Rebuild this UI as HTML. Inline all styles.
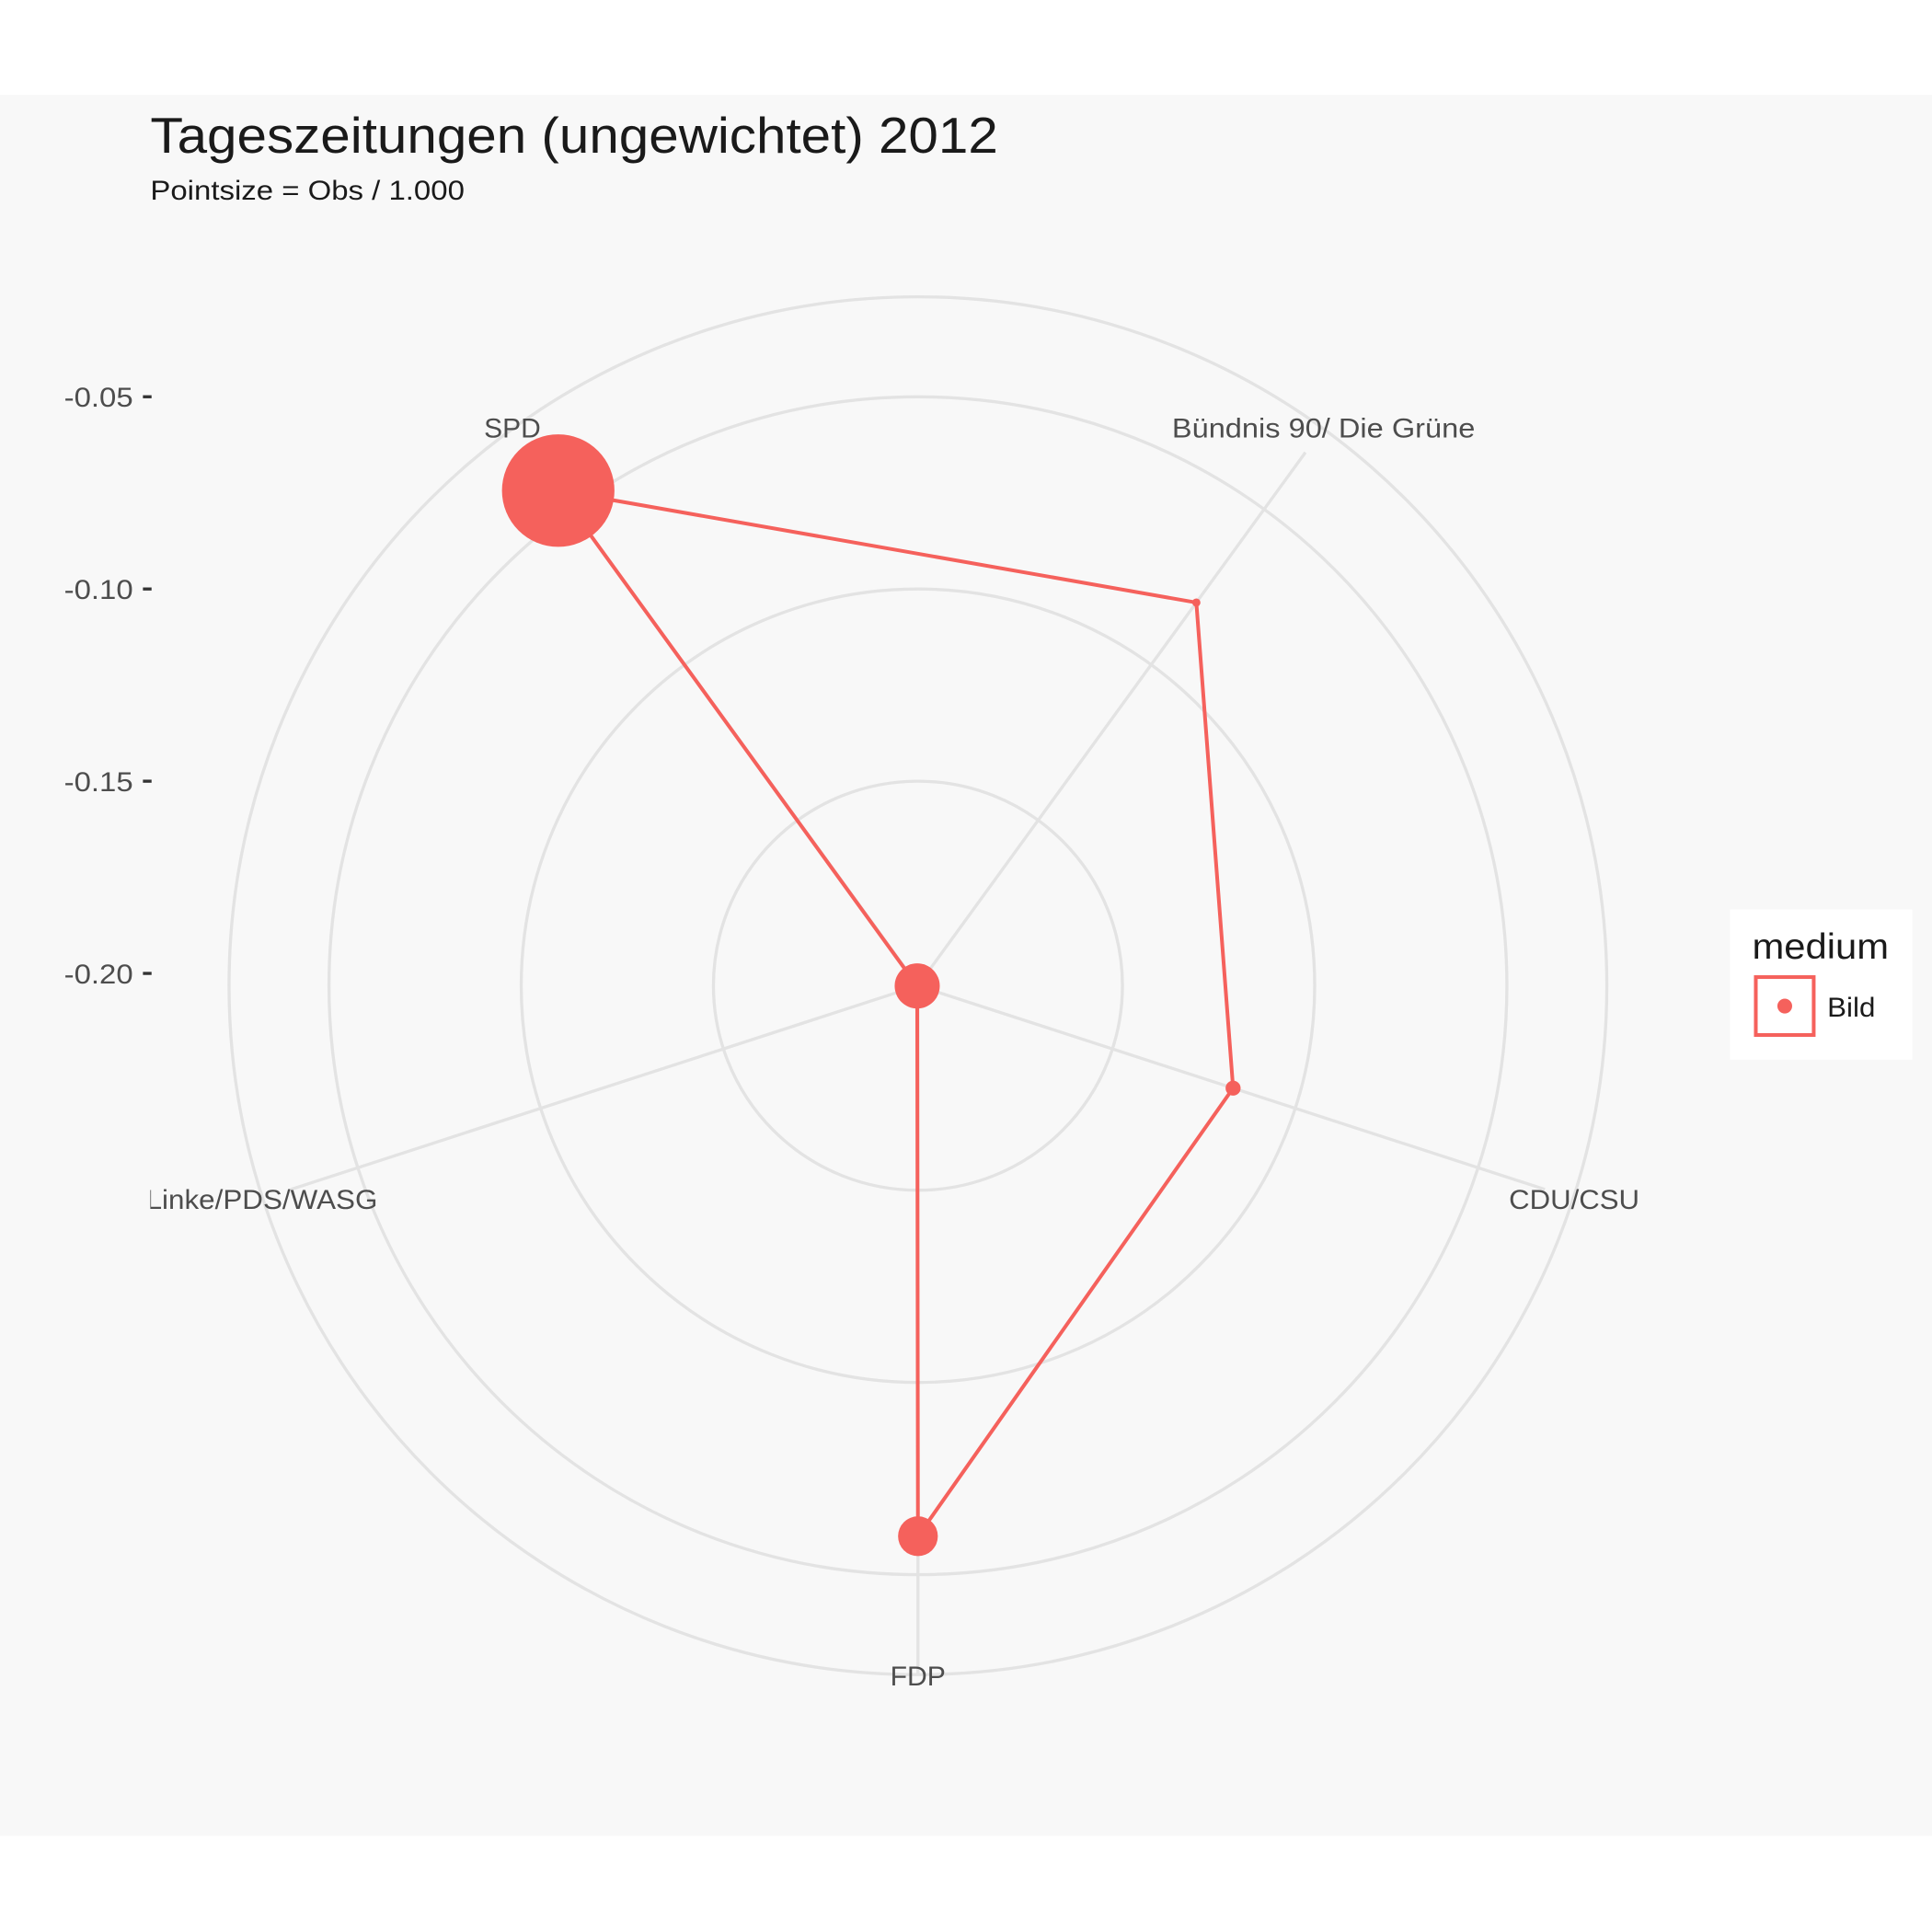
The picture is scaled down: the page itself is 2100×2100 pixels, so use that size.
<!DOCTYPE html>
<html><head><meta charset="utf-8"><style>
html,body{margin:0;padding:0;background:#fff}
svg{display:block;font-family:"Liberation Sans",sans-serif}
</style></head><body>
<svg id="chart" width="2100" height="2100" viewBox="0 0 1568 1568" xmlns="http://www.w3.org/2000/svg">
<defs><clipPath id="pc"><rect x="122" y="77" width="1446" height="1413"/></clipPath></defs>
<rect x="0" y="0" width="1568" height="1568" fill="#ffffff"/>
<rect x="0" y="77" width="1568" height="1413" fill="#f8f8f8"/>
<text x="122" y="124" font-size="41" textLength="688" lengthAdjust="spacingAndGlyphs" fill="#1a1a1a">Tageszeitungen (ungewichtet) 2012</text>
<text x="122" y="162" font-size="22" textLength="255" lengthAdjust="spacingAndGlyphs" fill="#1a1a1a">Pointsize = Obs / 1.000</text>
<g id="grid"></g>
<g id="axes"></g>
<g id="ylab"></g>
<g id="series"></g>
<g id="catlab" clip-path="url(#pc)"></g>
<g>
<rect x="1404" y="738" width="148" height="122" fill="#ffffff"/>
<text x="1422" y="778" font-size="29" textLength="111" lengthAdjust="spacingAndGlyphs" fill="#1a1a1a">medium</text>
<rect x="1425" y="793" width="47" height="47" fill="#fff" stroke="#F5615C" stroke-width="3"/>
<circle cx="1448.5" cy="816.5" r="6" fill="#F5615C"/>
<text x="1483" y="825" font-size="22" textLength="39" lengthAdjust="spacingAndGlyphs" fill="#1a1a1a">Bild</text>
</g>
</svg>
<script>
const categories = ["SPD", "Bündnis 90/ Die Grüne", "CDU/CSU", "FDP", "Linke/PDS/WASG"];
const values = [-0.044, -0.080, -0.117, -0.060, -0.203];
const obs = [56, 0.3, 1.0, 7.0, 9.0];
const gridValues = [-0.15, -0.10, -0.05, -0.024];
const tickValues = [-0.05, -0.10, -0.15, -0.20];
const tickLabels = ["-0.05", "-0.10", "-0.15", "-0.20"];

const NS = "http://www.w3.org/2000/svg";
const cx = 745, cy = 800, vMin = -0.2032, scale = 3120;
const rad = v => (v - vMin) * scale;
const ang = i => (-36 + 72 * i) * Math.PI / 180;
const px = (i, r) => cx + r * Math.sin(ang(i));
const py = (i, r) => cy - r * Math.cos(ang(i));
const yPos = v => cy - rad(v);
const ptR = o => 6.1 * Math.sqrt(o);
const labW = [46, 246, 106, 45, 188];
function mk(tag, attrs, parent) {
  const e = document.createElementNS(NS, tag);
  for (const k in attrs) e.setAttribute(k, attrs[k]);
  parent.appendChild(e); return e;
}
const grid = document.getElementById("grid");
gridValues.forEach((v, j) => {
  const c = mk("circle", {cx, cy, r: rad(v), fill: "none", stroke: "#e3e3e3", "stroke-width": 2.5}, grid);
  
  
});
const axes = document.getElementById("axes");
const axisR = 535;
categories.forEach((c, i) => {
  const r = i === 3 ? 560 : axisR;
  const l = mk("line", {x1: cx, y1: cy, x2: px(i, r), y2: py(i, r), stroke: "#e3e3e3", "stroke-width": 2.5}, axes);
  
  
});
const ylab = document.getElementById("ylab");
tickValues.forEach((v, j) => {
  const y = yPos(v);
  const t = mk("text", {x: 108, y: y + 8, "text-anchor": "end", "font-size": 22, textLength: 56, lengthAdjust: "spacingAndGlyphs", fill: "#4d4d4d"}, ylab);
  t.textContent = tickLabels[j];
  
  
  const tk = mk("line", {x1: 116, x2: 123, y1: y, y2: y, stroke: "#333", "stroke-width": 2.5}, ylab);
  
  
});
const series = document.getElementById("series");
const pts = values.map((v, i) => [px(i, rad(v)), py(i, rad(v))]);
const poly = mk("polygon", {points: pts.map(p => p.join(",")).join(" "), fill: "none", stroke: "#F5615C", "stroke-width": 3, "stroke-linejoin": "round"}, series);


pts.forEach((p, i) => {
  const c = mk("circle", {cx: p[0], cy: p[1], r: ptR(obs[i]), fill: "#F5615C"}, series);
  
  
});
const catlab = document.getElementById("catlab");
const labR = 560;
categories.forEach((c, i) => {
  const x = px(i, labR), y = py(i, labR);
  const t = mk("text", {x, y: y + 8, "text-anchor": "middle", "font-size": 22, textLength: labW[i], lengthAdjust: "spacingAndGlyphs", fill: "#4d4d4d"}, catlab);
  t.textContent = c;
  
  
});
</script>
</body></html>
